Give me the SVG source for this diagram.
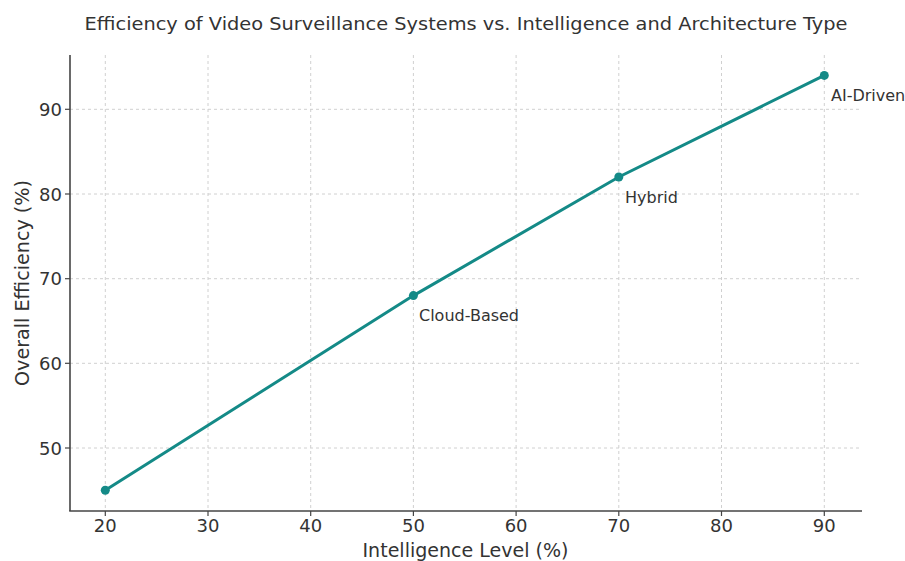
<svg xmlns="http://www.w3.org/2000/svg" width="905" height="561" viewBox="0 0 905 561">
<style>
text{font-family:"DejaVu Sans","Liberation Sans",sans-serif;fill:#333}
.tick{font-size:18px}
.grid{stroke:#d0d0d0;stroke-width:1;stroke-dasharray:3,3}
.ax{stroke:#444;stroke-width:1.6}
.tk{stroke:#444;stroke-width:1.2}
.ann{font-size:16px}
.ser{stroke:#148a87;stroke-width:3;fill:none}
.pt{fill:#148a87}
</style>
<rect width="905" height="561" fill="#fff"/>
<text x="466" y="30" font-size="17" text-anchor="middle" textLength="763" lengthAdjust="spacingAndGlyphs">Efficiency of Video Surveillance Systems vs. Intelligence and Architecture Type</text>
<g id="grid">
<line class="grid" x1="105.3" y1="55" x2="105.3" y2="511"/>
<line class="grid" x1="208" y1="55" x2="208" y2="511"/>
<line class="grid" x1="310.7" y1="55" x2="310.7" y2="511"/>
<line class="grid" x1="413.4" y1="55" x2="413.4" y2="511"/>
<line class="grid" x1="516.1" y1="55" x2="516.1" y2="511"/>
<line class="grid" x1="618.8" y1="55" x2="618.8" y2="511"/>
<line class="grid" x1="721.5" y1="55" x2="721.5" y2="511"/>
<line class="grid" x1="824.3" y1="55" x2="824.3" y2="511"/>
<line class="grid" x1="70" y1="109.3" x2="862" y2="109.3"/>
<line class="grid" x1="70" y1="194" x2="862" y2="194"/>
<line class="grid" x1="70" y1="278.7" x2="862" y2="278.7"/>
<line class="grid" x1="70" y1="363.3" x2="862" y2="363.3"/>
<line class="grid" x1="70" y1="448" x2="862" y2="448"/>
</g>
<g id="axes">
<line class="ax" x1="70" y1="55" x2="70" y2="511"/>
<line class="ax" x1="69.2" y1="511" x2="862" y2="511"/>
<g class="tk">
<line x1="105.3" y1="511" x2="105.3" y2="516"/>
<line x1="208" y1="511" x2="208" y2="516"/>
<line x1="310.7" y1="511" x2="310.7" y2="516"/>
<line x1="413.4" y1="511" x2="413.4" y2="516"/>
<line x1="516.1" y1="511" x2="516.1" y2="516"/>
<line x1="618.8" y1="511" x2="618.8" y2="516"/>
<line x1="721.5" y1="511" x2="721.5" y2="516"/>
<line x1="824.3" y1="511" x2="824.3" y2="516"/>
<line x1="65" y1="109.3" x2="70" y2="109.3"/>
<line x1="65" y1="194" x2="70" y2="194"/>
<line x1="65" y1="278.7" x2="70" y2="278.7"/>
<line x1="65" y1="363.3" x2="70" y2="363.3"/>
<line x1="65" y1="448" x2="70" y2="448"/>
</g>
<g class="tick" text-anchor="middle">
<text x="105.3" y="532">20</text>
<text x="208" y="532">30</text>
<text x="310.7" y="532">40</text>
<text x="413.4" y="532">50</text>
<text x="516.1" y="532">60</text>
<text x="618.8" y="532">70</text>
<text x="721.5" y="532">80</text>
<text x="824.3" y="532">90</text>
</g>
<g class="tick" text-anchor="end">
<text x="62" y="116">90</text>
<text x="62" y="200.7">80</text>
<text x="62" y="285.4">70</text>
<text x="62" y="370">60</text>
<text x="62" y="454.7">50</text>
</g>
<text x="465.5" y="557" font-size="19.5" text-anchor="middle" textLength="206" lengthAdjust="spacingAndGlyphs">Intelligence Level (%)</text>
<text transform="translate(29,283) rotate(-90)" font-size="19.5" text-anchor="middle" textLength="206" lengthAdjust="spacingAndGlyphs">Overall Efficiency (%)</text>
</g>
<g id="connectors">
<polyline class="ser" points="105.3,490.3 413.4,295.6 618.8,177 824.3,75.4"/>
</g>
<g id="node-20"><circle class="pt" cx="105.3" cy="490.3" r="4.5"/></g>
<g id="node-cloud"><circle class="pt" cx="413.4" cy="295.6" r="4.5"/><text class="ann" x="419" y="321">Cloud-Based</text></g>
<g id="node-hybrid"><circle class="pt" cx="618.8" cy="177" r="4.5"/><text class="ann" x="625" y="203">Hybrid</text></g>
<g id="node-ai"><circle class="pt" cx="824.3" cy="75.4" r="4.5"/><text class="ann" x="831" y="101">AI-Driven</text></g>
</svg>
